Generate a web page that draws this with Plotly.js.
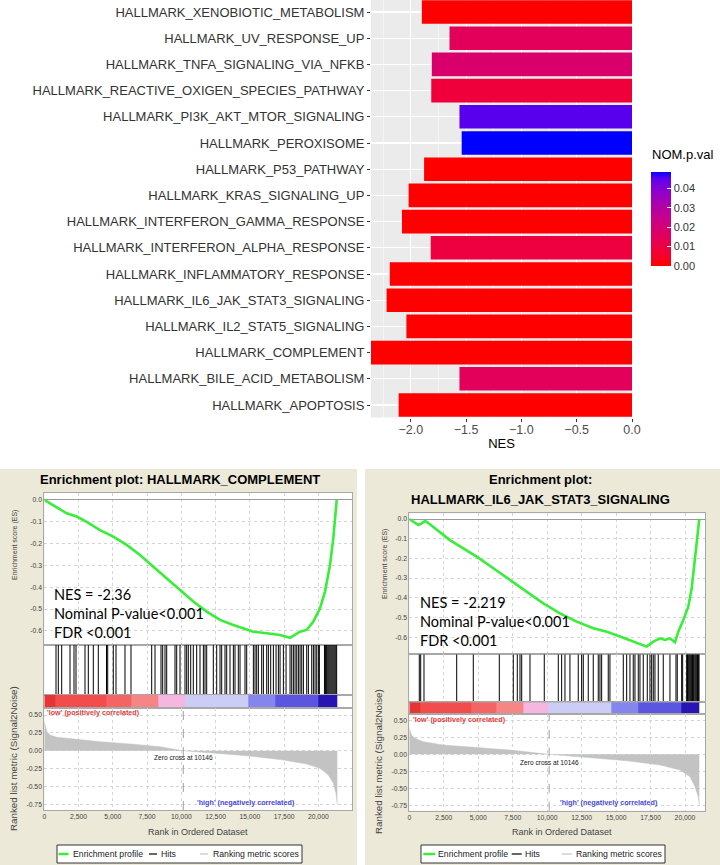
<!DOCTYPE html>
<html><head><meta charset="utf-8">
<script src="https://cdn.plot.ly/plotly-3.0.1.min.js"></script>
<style>html,body{margin:0;padding:0;background:#fff}#chart{width:720px;height:865px}</style>
</head><body><div id="chart"></div>
<script>
// ================= DATA =================
// Top bar chart (listed bottom -> top)
const pathways = ["HALLMARK_APOPTOSIS","HALLMARK_BILE_ACID_METABOLISM","HALLMARK_COMPLEMENT","HALLMARK_IL2_STAT5_SIGNALING","HALLMARK_IL6_JAK_STAT3_SIGNALING","HALLMARK_INFLAMMATORY_RESPONSE","HALLMARK_INTERFERON_ALPHA_RESPONSE","HALLMARK_INTERFERON_GAMMA_RESPONSE","HALLMARK_KRAS_SIGNALING_UP","HALLMARK_P53_PATHWAY","HALLMARK_PEROXISOME","HALLMARK_PI3K_AKT_MTOR_SIGNALING","HALLMARK_REACTIVE_OXIGEN_SPECIES_PATHWAY","HALLMARK_TNFA_SIGNALING_VIA_NFKB","HALLMARK_UV_RESPONSE_UP","HALLMARK_XENOBIOTIC_METABOLISM"];
const nesValues = [-2.11,-1.56,-2.36,-2.04,-2.219,-2.19,-1.82,-2.08,-2.02,-1.88,-1.54,-1.56,-1.815,-1.81,-1.65,-1.90];
const nomPval = [0,0.0145,0,0,0,0,0.009,0,0,0,0.0484,0.045,0.008,0.018,0.0145,0];
const pvalTicks = [0,0.01,0.02,0.03,0.04];
const pvalTickText = ["0.00","0.01","0.02","0.03","0.04"];

// GSEA: HALLMARK_COMPLEMENT
const compEsRank = [0,905,1635,2365,3095,4066,5036,6015,6985,7956,8934,9905,10876,11854,12825,13796,14774,15256,16234,17204,17934,18299,18664,19153,19635,20124,20489,20854,21095,21343];
const compEs = [0,-0.035,-0.061,-0.076,-0.1,-0.138,-0.168,-0.206,-0.252,-0.306,-0.359,-0.413,-0.466,-0.512,-0.55,-0.573,-0.596,-0.604,-0.611,-0.619,-0.632,-0.616,-0.604,-0.596,-0.558,-0.497,-0.42,-0.298,-0.176,0];
const compHits = [854,1022,1270,1876,2168,2314,2971,3212,3577,3942,4540,4628,5036,5234,5890,6328,7839,8080,8518,8642,8810,8934,9540,9664,9905,10271,10394,10511,10686,10876,11123,11365,11610,11730,11853,12336,12584,12827,12949,13190,13314,13555,13800,13920,14161,14287,14650,14774,15260,15382,15504,15626,15869,15991,16234,16356,16526,16721,16916,17086,17208,17451,17646,17938,18060,18181,18303,18425,18546,18668,18790,18911,19155,19276,19520,19641,19763,19885,20006,20079,20450,20520,20590,20650,20720,20790,20860,20930,21000,21070,21140,21210,21280,21340];
const compMetricRank = [0,175,416,905,2365,4066,6497,8445,10146,12584,15015,17445,19153,20124,20730,21095,21292,21387];
const compMetric = [0.41,0.27,0.22,0.19,0.16,0.126,0.09,0.056,0,-0.037,-0.074,-0.13,-0.186,-0.247,-0.34,-0.457,-0.597,-0.76];
const compBins = [0,780,4550,6380,8320,10270,14890,16840,20000,21380];

// GSEA: HALLMARK_IL6_JAK_STAT3_SIGNALING
const il6EsRank = [0,413,653,900,1139,1262,1988,2952,3917,4889,6094,7305,8516,9721,10932,12144,13348,14320,15285,16249,17222,17700,18187,18549,18912,19275,19514,19877,20239,20486,20725,20892,21037];
const il6Es = [0,-0.022,-0.03,-0.022,-0.01,-0.014,-0.056,-0.107,-0.149,-0.191,-0.25,-0.31,-0.369,-0.428,-0.479,-0.521,-0.555,-0.572,-0.597,-0.623,-0.648,-0.623,-0.606,-0.614,-0.606,-0.626,-0.572,-0.513,-0.445,-0.352,-0.2,-0.098,0];
const il6Hits = [725,827,1066,3438,4642,6529,7544,7834,8030,8153,8755,9792,10808,11052,11292,11654,12257,12503,12620,12982,13345,13708,13831,13955,14433,14556,15522,15768,16007,16247,16370,16610,16733,16972,17263,17458,17582,17698,17821,18061,18423,18909,19345,19439,19758,19831,20121,20180,20237,20300,20360,20420,20483,20540,20607,20660,20730,20790,20853,20910,20969,21020];
const il6MetricRank = [0,174,413,1016,2466,4889,7305,10146,12869,15771,18187,19638,20363,20725,20965,21037];
const il6Metric = [0.38,0.28,0.235,0.185,0.137,0.103,0.063,0,-0.044,-0.094,-0.157,-0.231,-0.329,-0.476,-0.624,-0.746];
const il6Bins = [0,776,4524,6338,8273,10087,14683,16618,19761,21040];

const zeroCross = 10146;
const rankTickVals = [0,2500,5000,7500,10000,12500,15000,17500,20000];
const rankTickText = ["0","2,500","5,000","7,500","10,000","12,500","15,000","17,500","20,000"];
const esTickVals = [0,-0.1,-0.2,-0.3,-0.4,-0.5,-0.6];
const esTickText = ["0.0","-0.1","-0.2","-0.3","-0.4","-0.5","-0.6"];
const metricTickVals = [0.5,0.25,0,-0.25,-0.5,-0.75];
const metricTickText = ["0.50","0.25","0.00","-0.25","-0.50","-0.75"];
const binColors = ["#e53535","#f24c4c","#f46464","#f68585","#f6b6e2","#cccdf6","#8585ee","#5b55df","#2814b2"];

// ================= LAYOUT HELPERS =================
const W = 720, H = 865;
const X = p => p / W;
const Y = p => 1 - p / H;
const xd = (a, b) => [a / W, b / W];
const yd = (a, b) => [1 - b / H, 1 - a / H];
const FONT = "Liberation Sans, Arial, sans-serif";

const pScale = [[0,"#FF0000"],[0.125,"#F40031"],[0.25,"#E8004F"],[0.5,"#C90089"],[0.75,"#9A00C3"],[0.875,"#7300E0"],[0.9375,"#5400F0"],[1,"#0000FF"]];

const traces = [];
const layout = {
  width: W, height: H, margin: {l:0, r:0, t:0, b:0},
  paper_bgcolor: "#ffffff", plot_bgcolor: "rgba(0,0,0,0)",
  font: {family: FONT, color: "#222"},
  showlegend: false, bargap: 0.1, hovermode: false,
  shapes: [], annotations: []
};

// ---- top bar chart ----
traces.push({
  type: "bar", orientation: "h", y: pathways, x: nesValues,
  xaxis: "x", yaxis: "y",
  marker: {color: nomPval, colorscale: pScale, cmin: 0, cmax: 0.0484, line: {width: 0},
    showscale: true,
    colorbar: {x: X(651), xanchor: "left", y: Y(172), yanchor: "top",
      len: 94, lenmode: "pixels", thickness: 20, thicknessmode: "pixels",
      xpad: 0, ypad: 0, outlinewidth: 0,
      tickvals: pvalTicks, ticktext: pvalTickText, ticks: "inside", ticklen: 4, tickcolor: "#ffffff",
      tickfont: {size: 11, color: "#333"}}}
});
layout.xaxis = {domain: xd(371, 632), range: [-2.36, 0], anchor: "y", dtick: 0.5, tick0: 0, tickformat: ".1f",
  ticks: "outside", ticklen: 3, tickcolor: "#333", tickfont: {size: 12.5, color: "#4d4d4d"},
  ticklabelstandoff: -3,
  showgrid: true, gridcolor: "#ffffff", gridwidth: 1.1,
  minor: {dtick: 0.5, tick0: 0.25, showgrid: true, gridcolor: "#ffffff", gridwidth: 0.5},
  zeroline: false, showline: false,
  title: {text: "NES", font: {size: 13, color: "#000"}, standoff: 0}};
layout.yaxis = {domain: yd(0, 417.5), range: [-0.477, 15.458], anchor: "x", type: "category",
  categoryorder: "array", categoryarray: pathways,
  ticks: "outside", ticklen: 3, tickcolor: "#333", tickfont: {size: 13, color: "#333"},
  showgrid: true, gridcolor: "#ffffff", gridwidth: 1.1, zeroline: false, showline: false};
layout.shapes.push({type: "rect", xref: "paper", yref: "paper", x0: X(371), x1: X(632), y0: Y(417.5), y1: Y(0),
  fillcolor: "#ebebeb", line: {width: 0}, layer: "below"});
layout.annotations.push({xref: "paper", yref: "paper", x: X(650), y: Y(155), xanchor: "left", yanchor: "middle",
  text: "NOM.p.val", showarrow: false, font: {size: 13, color: "#000"}});

// ---- GSEA panels ----
const panels = [
  {ax: [2,3,4,5], x0: 44.3, x1: 352, xmax: 22460, es: [493,645], esRange: [-0.665,0.032],
   hits: [645,695], cb: [695,708], rk: [708,810], rkRange: [-0.83,0.598],
   esR: compEsRank, esV: compEs, hitV: compHits, bins: compBins, rkX: compMetricRank, rkV: compMetric,
   bg: [0,357], title: ["Enrichment plot: HALLMARK_COMPLEMENT"], titleY: [479], titleX: 180,
   nes: "NES = -2.36", nesX: 51.5, nesY: 613.3, esTitle: [15,545], rkTitle: [13,759], xTitle: [198,832],
   low: [44.8,712.7], high: [246.3,802.3], zeroY: -0.1,
   leg: {box: [57,302], g: [58.5,68.5], gt: 70.5, h: [149,157], ht: 159, r: [200,208], rt: 210.5}},
  {ax: [6,7,8,9], x0: 409.3, x1: 705, xmax: 21451, es: [513.3,654.3], esRange: [-0.687,0.029],
   hits: [654.3,702.3], cb: [702.3,714], rk: [714,810.7], rkRange: [-0.829,0.593],
   esR: il6EsRank, esV: il6Es, hitV: il6Hits, bins: il6Bins, rkX: il6MetricRank, rkV: il6Metric,
   bg: [365,720], title: ["Enrichment plot:", "HALLMARK_IL6_JAK_STAT3_SIGNALING"], titleY: [480,499], titleX: 540,
   nes: "NES = -2.219", nesX: 418, nesY: 621.3, esTitle: [385,564], rkTitle: [378,762], xTitle: [561.7,831.7],
   low: [410.7,719], high: [609,802.7], zeroY: -0.115,
   leg: {box: [421,665], g: [423.3,435], gt: 436.5, h: [511.7,521.7], ht: 523.3, r: [561.7,571.7], rt: 574}}
];

const border = {showline: true, mirror: true, linecolor: "#a8a8a8", linewidth: 1, zeroline: false};
const grid = {showgrid: true, gridcolor: "#d4d4d4", griddash: "dot", gridwidth: 1};
const tickF = {size: 6.8, color: "#444"};

panels.forEach(P => {
  const [a, b, c, d] = P.ax;
  const xbase = {range: [0, P.xmax], domain: xd(P.x0, P.x1), ...border, tickvals: rankTickVals, ticktext: rankTickText};
  // background shapes
  layout.shapes.push({type: "rect", xref: "paper", yref: "paper", x0: X(P.bg[0]), x1: X(P.bg[1]), y0: Y(865), y1: Y(469),
    fillcolor: "#ece9d8", line: {width: 0}, layer: "below"});
  layout.shapes.push({type: "rect", xref: "paper", yref: "paper", x0: X(P.x0), x1: X(P.x1), y0: Y(P.rk[1]), y1: Y(P.es[0]),
    fillcolor: "#ffffff", line: {width: 0}, layer: "below"});
  // ES
  layout["xaxis" + a] = {...xbase, ...grid, anchor: "y" + a, showticklabels: false, ticks: ""};
  layout["yaxis" + a] = {domain: yd(P.es[0], P.es[1]), range: P.esRange, anchor: "x" + a, ...border, ...grid,
    tickvals: esTickVals, ticktext: esTickText, ticks: "", tickfont: tickF,
    zeroline: true, zerolinecolor: "#9a9a9a", zerolinewidth: 1};
  traces.push({type: "scatter", mode: "lines", x: P.esR, y: P.esV, xaxis: "x" + a, yaxis: "y" + a,
    line: {color: "#38ee38", width: 2.6}});
  // hits
  layout["xaxis" + b] = {...xbase, ...grid, anchor: "y" + b, showticklabels: false, ticks: ""};
  layout["yaxis" + b] = {domain: yd(P.hits[0], P.hits[1]), range: [0, 1], anchor: "x" + b, ...border,
    showgrid: false, showticklabels: false, ticks: ""};
  const hx = [], hy = [];
  P.hitV.forEach(h => { hx.push(h, h, null); hy.push(0, 1, null); });
  traces.push({type: "scatter", mode: "lines", x: hx, y: hy, xaxis: "x" + b, yaxis: "y" + b,
    line: {color: "#000000", width: 1}});
  // ranking color bar
  layout["xaxis" + c] = {...xbase, anchor: "y" + c, showgrid: false, showticklabels: false, ticks: ""};
  layout["yaxis" + c] = {domain: yd(P.cb[0], P.cb[1]), range: [0, 1], anchor: "x" + c, ...border,
    showgrid: false, showticklabels: false, ticks: ""};
  traces.push({type: "heatmap", x: P.bins, y: [0, 1], z: [binColors.map((_, i) => i)],
    xaxis: "x" + c, yaxis: "y" + c, zmin: 0, zmax: binColors.length - 1, showscale: false,
    colorscale: binColors.map((col, i) => [i / (binColors.length - 1), col])});
  // ranked list metric
  layout["xaxis" + d] = {...xbase, ...grid, anchor: "y" + d, ticks: "", tickfont: tickF};
  layout["yaxis" + d] = {domain: yd(P.rk[0], P.rk[1]), range: P.rkRange, anchor: "x" + d, ...border, ...grid,
    tickvals: metricTickVals, ticktext: metricTickText, ticks: "", tickfont: tickF};
  traces.push({type: "scatter", mode: "lines", x: P.rkX, y: P.rkV, xaxis: "x" + d, yaxis: "y" + d,
    fill: "tozeroy", fillcolor: "#c3c3c3", line: {color: "#c3c3c3", width: 0.5}});
  layout.shapes.push({type: "line", xref: "x" + d, yref: "y" + d + " domain", x0: zeroCross, x1: zeroCross, y0: 0, y1: 1,
    line: {color: "#a0a0a0", width: 1, dash: "dash"}});

  // texts
  P.title.forEach((t, i) => layout.annotations.push({xref: "paper", yref: "paper", x: X(P.titleX), y: Y(P.titleY[i]),
    xanchor: "center", yanchor: "middle", showarrow: false, text: "<b>" + t + "</b>", font: {size: 13, color: "#000"}}));
  layout.annotations.push({xref: "paper", yref: "paper", x: X(P.nesX), y: Y(P.nesY), xanchor: "left", yanchor: "middle",
    align: "left", showarrow: false, text: P.nes + "<br>Nominal P-value&lt;0.001<br>FDR &lt;0.001",
    font: {family: "Lato, Noto Sans, sans-serif", size: 14.5, color: "#000"}});
  layout.annotations.push({xref: "paper", yref: "paper", x: X(P.esTitle[0]), y: Y(P.esTitle[1]), textangle: -90,
    xanchor: "center", yanchor: "middle", showarrow: false, text: "Enrichment score (ES)", font: {size: 7, color: "#444"}});
  layout.annotations.push({xref: "paper", yref: "paper", x: X(P.rkTitle[0]), y: Y(P.rkTitle[1]), textangle: -90,
    xanchor: "center", yanchor: "middle", showarrow: false, text: "Ranked list metric (Signal2Noise)", font: {size: 9.8, color: "#444"}});
  layout.annotations.push({xref: "paper", yref: "paper", x: X(P.xTitle[0]), y: Y(P.xTitle[1]),
    xanchor: "center", yanchor: "middle", showarrow: false, text: "Rank in Ordered Dataset", font: {size: 9, color: "#444"}});
  layout.annotations.push({xref: "paper", yref: "paper", x: X(P.low[0]), y: Y(P.low[1]), xanchor: "left", yanchor: "middle",
    showarrow: false, text: "<b>'low' (positively correlated)</b>", font: {size: 7.2, color: "#e33b3b"}});
  layout.annotations.push({xref: "paper", yref: "paper", x: X(P.high[0]), y: Y(P.high[1]), xanchor: "center", yanchor: "middle",
    showarrow: false, text: "<b>'high' (negatively correlated)</b>", font: {size: 7.2, color: "#4848dc"}});
  layout.annotations.push({xref: "x" + d, yref: "y" + d, x: zeroCross, y: P.zeroY, xanchor: "center", yanchor: "middle",
    showarrow: false, text: "Zero cross at " + zeroCross, font: {size: 6.6, color: "#111"}});

  // legend box
  const L = P.leg, ly = 854;
  layout.shapes.push({type: "rect", xref: "paper", yref: "paper", x0: X(L.box[0]), x1: X(L.box[1]), y0: Y(863), y1: Y(845),
    fillcolor: "#ffffff", line: {color: "#333", width: 1}});
  layout.shapes.push({type: "line", xref: "paper", yref: "paper", x0: X(L.g[0]), x1: X(L.g[1]), y0: Y(ly), y1: Y(ly), line: {color: "#38ee38", width: 2.5}});
  layout.shapes.push({type: "line", xref: "paper", yref: "paper", x0: X(L.h[0]), x1: X(L.h[1]), y0: Y(ly), y1: Y(ly), line: {color: "#000", width: 1.2}});
  layout.shapes.push({type: "line", xref: "paper", yref: "paper", x0: X(L.r[0]), x1: X(L.r[1]), y0: Y(ly), y1: Y(ly), line: {color: "#c3c3c3", width: 1.2}});
  [["Enrichment profile", L.gt], ["Hits", L.ht], ["Ranking metric scores", L.rt]].forEach(([t, x]) =>
    layout.annotations.push({xref: "paper", yref: "paper", x: X(x), y: Y(ly), xanchor: "left", yanchor: "middle",
      showarrow: false, text: t, font: {size: 8.7, color: "#222"}}));
});

Plotly.newPlot("chart", traces, layout, {staticPlot: true, displayModeBar: false});
</script>
</body></html>
